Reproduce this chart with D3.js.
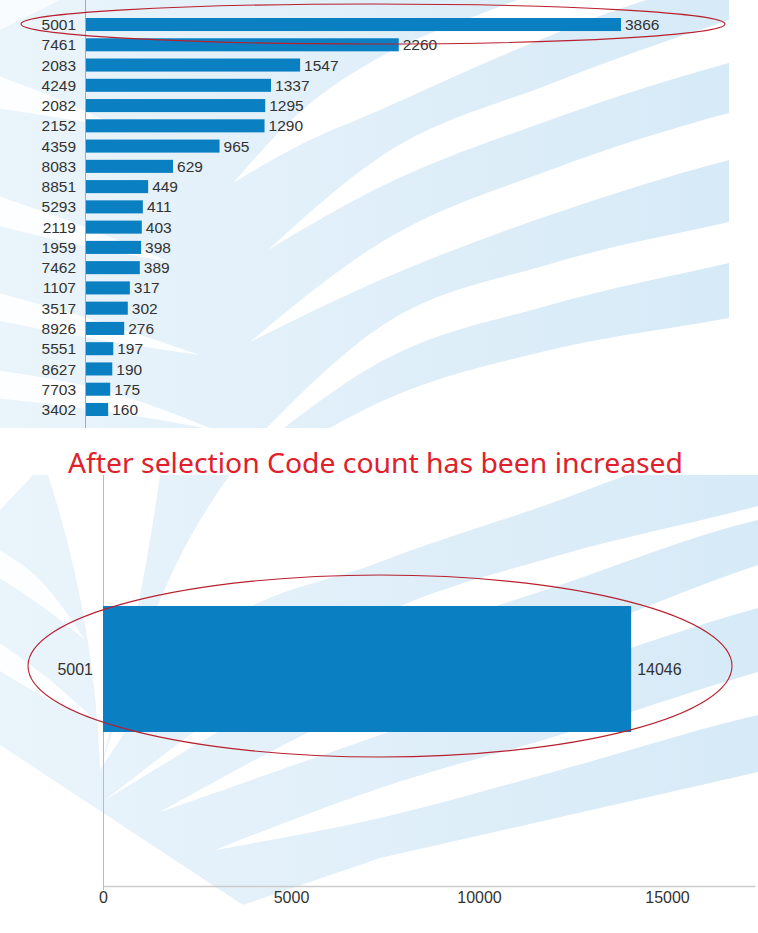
<!DOCTYPE html>
<html>
<head>
<meta charset="utf-8">
<script src="https://cdn.jsdelivr.net/npm/d3@7"></script>
<style>
html,body{margin:0;padding:0;background:#fff;}
svg{display:block;}
</style>
</head>
<body>
<svg id="chart" width="758" height="933"></svg>
<script>
// ---- data ----
const codes = ["5001","7461","2083","4249","2082","2152","4359","8083","8851","5293","2119","1959","7462","1107","3517","8926","5551","8627","7703","3402"];
const counts = [3866,2260,1547,1337,1295,1290,965,629,449,411,403,398,389,317,302,276,197,190,175,160];
const afterCodes = ["5001"];
const afterCounts = [14046];
const afterTicks = [0,5000,10000,15000];
const titleText = "After selection Code count has been increased";

const svg = d3.select("#chart");
const defs = svg.append("defs");

const grad = defs.append("linearGradient").attr("id","bg").attr("x1","0").attr("x2","1").attr("y1","0").attr("y2","0");
grad.append("stop").attr("offset","0").attr("stop-color","#eaf4fb");
grad.append("stop").attr("offset","1").attr("stop-color","#d6eaf7");

// ---- decorative watermark backgrounds (white stripes over light blue) ----
const edge = d3.line().curve(d3.curveMonotoneX);
function stripe(upper, lower){
  const up = edge(upper);
  const lo = edge(lower.slice().reverse().map(p=>[-p[0],p[1]]));
  // rebuild lower edge right->left by mirroring x (monotone needs increasing x)
  const loPts = lower.slice().reverse();
  const lo2 = d3.line().curve(d3.curveMonotoneX)(loPts);
  return up + "L" + lo2.slice(1) + "Z";
}
// top panel
defs.append("clipPath").attr("id","clipTop").append("rect").attr("x",0).attr("y",0).attr("width",729).attr("height",428);
const bgTop = svg.append("g").attr("clip-path","url(#clipTop)");
bgTop.append("rect").attr("x",0).attr("y",0).attr("width",729).attr("height",428).attr("fill","url(#bg)");
const topStripes = [
  [[[233,183],[300,112],[380,57],[470,18],[540,-8]], [[233,183],[300,145],[380,110],[520,48],[640,2],[700,-15]]],
  [[[268,250],[380,157],[550,84],[729,20],[760,10]], [[268,250],[380,187],[550,120],[729,63],[760,55]]],
  [[[250,342],[380,243],[550,170],[729,113],[760,105]], [[250,342],[380,280],[550,215],[729,160],[760,152]]],
  [[[250,445],[380,327],[550,264],[729,222],[760,215]], [[262,445],[380,362],[550,305],[729,263],[760,256]]],
  [[[300,445],[380,402],[550,350],[729,318],[760,312]], [[300,460],[760,460]]]
];
topStripes.forEach(s=>bgTop.append("path").attr("d",stripe(s[0],s[1])).attr("fill","#fff"));
const topLeftStripes = [
  [[[-5,75],[60,100],[120,128]], [[-5,108],[60,118],[120,128]]],
  [[[-5,195],[80,225],[170,262]], [[-5,225],[80,245],[170,262]]],
  [[[-5,292],[100,322],[200,355]], [[-5,320],[100,340],[200,355]]],
  [[[-5,370],[110,392],[215,430]], [[-5,398],[110,412],[215,430]]]
];
topLeftStripes.forEach(s=>bgTop.append("path").attr("d",stripe(s[0],s[1])).attr("fill","#fff").attr("opacity",0.9));
bgTop.append("path").attr("d","M0,0 L60,0 L0,30 Z").attr("fill","#fff").attr("opacity",0.7);

// bottom panel
defs.append("clipPath").attr("id","clipBot").append("rect").attr("x",0).attr("y",475).attr("width",758).attr("height",440);
const bgBot = svg.append("g").attr("clip-path","url(#clipBot)");
bgBot.append("path").attr("d","M33,475 L758,475 L758,772 L380,858 L243,905 L0,745 L0,510 Z").attr("fill","url(#bg)");
const botStripes = [
  [[[215,850],[380,788],[560,735],[758,672],[780,666]], [[215,850],[380,818],[560,770],[758,715],[780,710]]],
  [[[160,812],[380,700],[560,640],[758,565],[780,558]], [[160,812],[380,735],[560,672],[758,608],[780,602]]],
  [[[105,800],[380,615],[560,555],[758,506],[780,500]], [[105,800],[380,648],[560,585],[758,520],[780,515]]],
  [[[100,770],[160,600],[230,475],[260,440]], [[100,770],[200,640],[380,562],[560,500],[640,470]]]
];
botStripes.forEach(s=>bgBot.append("path").attr("d",stripe(s[0],s[1])).attr("fill","#fff"));
bgBot.append("path").attr("d","M48,475 L160,475 Q140,620 100,770 Q95,620 48,475 Z").attr("fill","#fff");
const botLeftStripes = [
  [[[-5,548],[40,580],[85,640]], [[-5,575],[40,605],[85,640]]],
  [[[-5,640],[50,680],[95,720]], [[-5,668],[50,700],[95,720]]]
];
botLeftStripes.forEach(s=>bgBot.append("path").attr("d",stripe(s[0],s[1])).attr("fill","#fff").attr("opacity",0.9));

const fontLab = "'Liberation Sans', Arial, sans-serif";
const barColor = "#0a7fc2";
const textColor = "#333";

// ---- top chart ----
const xTop = d3.scaleLinear().domain([0, d3.max(counts)]).range([86, 621]);
const yTop = d3.scaleBand().domain(codes).range([18, 416]).paddingInner(0.356).paddingOuter(0);

svg.append("line").attr("x1",85.5).attr("x2",85.5).attr("y1",0).attr("y2",428).attr("stroke","#aaa").attr("stroke-width",1);

const gTop = svg.append("g");
gTop.selectAll("rect.bar").data(codes).join("rect")
  .attr("class","bar")
  .attr("x", xTop(0))
  .attr("y", d=>yTop(d))
  .attr("width", (d,i)=>xTop(counts[i])-xTop(0))
  .attr("height", yTop.bandwidth())
  .attr("fill", barColor);
gTop.selectAll("text.val").data(codes).join("text")
  .attr("class","val")
  .attr("x", (d,i)=>xTop(counts[i])+4)
  .attr("y", d=>yTop(d)+yTop.bandwidth()/2)
  .attr("dy","0.36em")
  .attr("font-family", fontLab).attr("font-size", 15.5).attr("fill", textColor)
  .text((d,i)=>counts[i]);
gTop.selectAll("text.cat").data(codes).join("text")
  .attr("class","cat")
  .attr("x", 76)
  .attr("y", d=>yTop(d)+yTop.bandwidth()/2)
  .attr("dy","0.36em")
  .attr("text-anchor","end")
  .attr("font-family", fontLab).attr("font-size", 15.5).attr("fill", textColor)
  .text(d=>d);

// highlight ellipse top
svg.append("ellipse").attr("cx",373).attr("cy",24).attr("rx",352).attr("ry",20)
  .attr("fill","none").attr("stroke","#b8202e").attr("stroke-width",1.1);

// ---- title ----
svg.append("text").attr("x",68).attr("y",473)
  .attr("font-family","'Noto Sans', 'Open Sans', sans-serif").attr("font-size",28)
  .attr("textLength",615).attr("lengthAdjust","spacingAndGlyphs")
  .attr("fill","#e0212b").text(titleText);

// ---- bottom chart ----
const xBot = d3.scaleLinear().domain([0, 17340]).range([103, 755]);
const yBot = d3.scaleBand().domain(afterCodes).range([452, 886]).padding(0.55);

svg.append("line").attr("x1",103.5).attr("x2",103.5).attr("y1",475).attr("y2",890).attr("stroke","#bbb");

const xAxis = d3.axisBottom(xBot).tickValues(afterTicks).tickSize(0).tickPadding(6).tickFormat(d3.format("d"));
const gx = svg.append("g").attr("transform","translate(0,886)").call(xAxis);
gx.select(".domain").attr("stroke","#ccc").attr("stroke-width",1.5);
gx.selectAll("text").attr("font-family",fontLab).attr("font-size",16).attr("fill",textColor);

const gBot = svg.append("g");
gBot.selectAll("rect").data(afterCodes).join("rect")
  .attr("x", xBot(0))
  .attr("y", d=>yBot(d))
  .attr("width",(d,i)=>xBot(afterCounts[i])-xBot(0))
  .attr("height", yBot.bandwidth())
  .attr("fill", barColor);
gBot.selectAll("text.val").data(afterCodes).join("text")
  .attr("class","val")
  .attr("x",(d,i)=>xBot(afterCounts[i])+6)
  .attr("y", d=>yBot(d)+yBot.bandwidth()/2)
  .attr("dy","0.36em")
  .attr("font-family",fontLab).attr("font-size",16).attr("fill",textColor)
  .text((d,i)=>afterCounts[i]);
gBot.selectAll("text.cat").data(afterCodes).join("text")
  .attr("class","cat")
  .attr("x", 93)
  .attr("y", d=>yBot(d)+yBot.bandwidth()/2)
  .attr("dy","0.36em")
  .attr("text-anchor","end")
  .attr("font-family",fontLab).attr("font-size",16).attr("fill",textColor)
  .text(d=>d);

svg.append("ellipse").attr("cx",380).attr("cy",666).attr("rx",352).attr("ry",91)
  .attr("fill","none").attr("stroke","#b8202e").attr("stroke-width",1.1);
</script>
</body>
</html>
